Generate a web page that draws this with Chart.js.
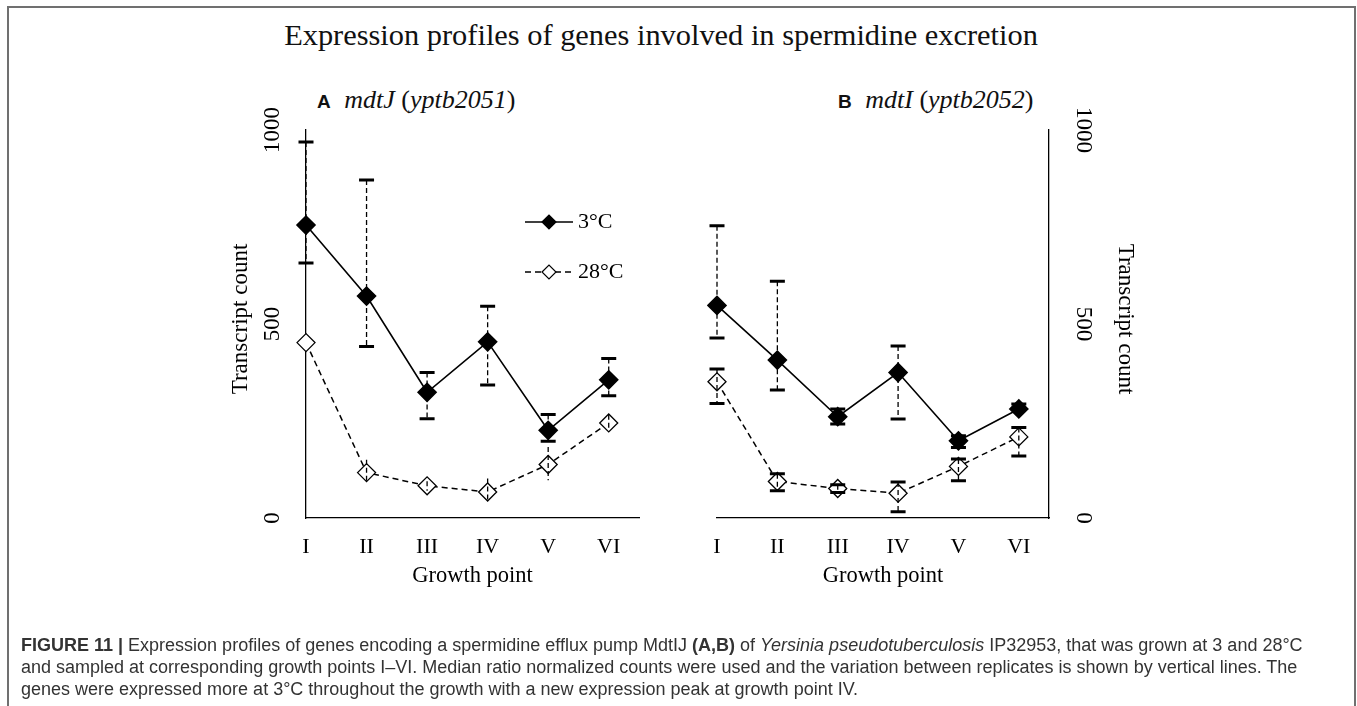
<!DOCTYPE html>
<html>
<head>
<meta charset="utf-8">
<script src="https://cdn.jsdelivr.net/npm/chart.js@4.4.1/dist/chart.umd.min.js"></script>
<style>
  body { margin: 0; background: #fff; width: 1357px; height: 706px; overflow: hidden; position: relative; font-family: "Liberation Serif", serif; }
  #frame { position: absolute; left: 7px; top: 6px; width: 1349px; height: 760px; border: 2px solid #707070; box-sizing: border-box; }
  #title { position: absolute; left: 0; width: 1322px; top: 17px; text-align: center; font-size: 30.4px; line-height: 36px; color: #111; }
  .panel { position: absolute; top: 85px; font-size: 26px; line-height: 30px; white-space: nowrap; color: #111; }
  .panel b { font-family: "Liberation Sans", Arial, sans-serif; font-size: 19px; margin-right: 7px; }
  canvas { position: absolute; left: 0; top: 0; }
  #caption { position: absolute; left: 21px; top: 634px; font-family: "Liberation Sans", Arial, sans-serif; font-size: 18px; line-height: 22px; color: #333; white-space: nowrap; }
</style>
</head>
<body>
<div id="frame"></div>
<div id="title">Expression profiles of genes involved in spermidine excretion</div>
<div class="panel" style="left:317px"><b>A</b> <i>mdtJ</i> (<i>yptb2051</i>)</div>
<div class="panel" style="left:838px"><b>B</b> <i>mdtI</i> (<i>yptb2052</i>)</div>
<canvas id="chartA" width="1357" height="706"></canvas>
<canvas id="chartB" width="1357" height="706"></canvas>
<div id="caption"><b>FIGURE 11 |</b> Expression profiles of genes encoding a spermidine efflux pump MdtIJ <b>(A,B)</b> of <i>Yersinia pseudotuberculosis</i> IP32953, that was grown at 3 and 28°C<br>and sampled at corresponding growth points I–VI. Median ratio normalized counts were used and the variation between replicates is shown by vertical lines. The<br>genes were expressed more at 3°C throughout the growth with a new expression peak at growth point IV.</div>
<script>
const growthPoints = ['I', 'II', 'III', 'IV', 'V', 'VI'];
const yTicks = [0, 500, 1000];

// A: mdtJ (yptb2051)
const mdtJ3 = [755, 572, 324, 454, 226, 356];
const mdtJ3Lo = [657, 442, 256, 343, 198, 315];
const mdtJ3Hi = [969, 871, 375, 546, 267, 411];
const mdtJ28 = [452, 117, 83, 67, 138, 245];
const mdtJ28Lo = [452, 95, 70, 42, 97, 226];
const mdtJ28Hi = [452, 150, 95, 102, 183, 266];

// B: mdtI (yptb2052)
const mdtI3 = [548, 407, 261, 375, 199, 281];
const mdtI3Lo = [464, 330, 242, 255, 182, 280];
const mdtI3Hi = [753, 610, 281, 443, 212, 294];
const mdtI28 = [351, 94, 76, 64, 133, 209];
const mdtI28Lo = [295, 70, 66, 16, 96, 160];
const mdtI28Hi = [384, 114, 86, 93, 152, 233];

const serif = 'Liberation Serif';
const toXY = vals => vals.map((v, i) => ({ x: i, y: v }));

// dashed whiskers with optional solid caps
const errorBars = {
  id: 'errorBars',
  afterDatasetsDraw(chart) {
    const ctx = chart.ctx, ys = chart.scales.y;
    chart.data.datasets.forEach((ds, i) => {
      const meta = chart.getDatasetMeta(i);
      meta.data.forEach((pt, j) => {
        const top = ys.getPixelForValue(ds.errHi[j]);
        const bot = ys.getPixelForValue(ds.errLo[j]);
        if (bot - top < 1) return;
        ctx.save();
        ctx.strokeStyle = '#000';
        ctx.lineWidth = 1.3;
        ctx.setLineDash([5, 3]);
        ctx.beginPath();
        ctx.moveTo(pt.x, top);
        ctx.lineTo(pt.x, bot);
        ctx.stroke();
        if (ds.capWidth) {
          const w = ds.capWidth / 2;
          ctx.setLineDash([]);
          ctx.lineWidth = 3;
          ctx.beginPath();
          ctx.moveTo(pt.x - w, top); ctx.lineTo(pt.x + w, top);
          ctx.moveTo(pt.x - w, bot); ctx.lineTo(pt.x + w, bot);
          ctx.stroke();
        }
        ctx.restore();
      });
    });
  }
};

// rotated y tick labels + axis title, legend
const sideText = {
  id: 'sideText',
  afterDraw(chart, args, o) {
    const ctx = chart.ctx, ys = chart.scales.y, a = chart.chartArea;
    const right = o.side === 'right';
    const rot = right ? Math.PI / 2 : -Math.PI / 2;
    const put = (txt, x, y) => {
      ctx.save();
      ctx.translate(x, y);
      ctx.rotate(rot);
      ctx.fillText(txt, 0, 0);
      ctx.restore();
    };
    ctx.save();
    ctx.fillStyle = '#000';
    ctx.textAlign = 'center';
    ctx.textBaseline = 'middle';
    ctx.font = '23px "' + serif + '"';
    yTicks.forEach(v => {
      put(String(v), right ? a.right + o.tickGap : a.left - o.tickGap, ys.getPixelForValue(v));
    });
    put('Transcript count', right ? a.right + o.titleGap : a.left - o.titleGap, (a.top + a.bottom) / 2 - 5);

    if (o.legend) {
      const x0 = a.left + 219, x1 = a.left + 267, xm = (x0 + x1) / 2;
      chart.data.datasets.forEach((ds, i) => {
        const y = a.top + 92 + i * 50;
        ctx.strokeStyle = '#000';
        ctx.lineWidth = 1.5;
        ctx.setLineDash(ds.borderDash || []);
        ctx.beginPath();
        ctx.moveTo(x0, y); ctx.lineTo(x1, y);
        ctx.stroke();
        ctx.setLineDash([]);
        ctx.beginPath();
        ctx.moveTo(xm - 7, y); ctx.lineTo(xm, y - 7); ctx.lineTo(xm + 7, y); ctx.lineTo(xm, y + 7);
        ctx.closePath();
        ctx.fillStyle = ds.pointBackgroundColor;
        ctx.fill();
        ctx.lineWidth = 1.2;
        ctx.stroke();
        ctx.fillStyle = '#000';
        ctx.textAlign = 'left';
        ctx.font = '22px "' + serif + '"';
        ctx.fillText(ds.label, x1 + 5, y);
      });
    }
    ctx.restore();
  }
};

function makeChart(id, cold, coldLo, coldHi, warm, warmLo, warmHi, side, pad, warmCap, legend) {
  return new Chart(document.getElementById(id), {
    type: 'line',
    data: {
      datasets: [{
        label: '3°C',
        data: toXY(cold),
        errLo: coldLo, errHi: coldHi, capWidth: 15,
        borderColor: '#000', borderWidth: 1.6,
        pointStyle: 'rectRot', pointRadius: 9,
        pointBackgroundColor: '#000', pointBorderColor: '#000',
        tension: 0, clip: false
      }, {
        label: '28°C',
        data: toXY(warm),
        errLo: warmLo, errHi: warmHi, capWidth: warmCap,
        borderColor: '#000', borderWidth: 1.5, borderDash: [6, 4],
        pointStyle: 'rectRot', pointRadius: 9, pointBorderWidth: 1.3,
        pointBackgroundColor: '#fff', pointBorderColor: '#000',
        tension: 0, clip: false
      }]
    },
    options: {
      responsive: false,
      animation: false,
      events: [],
      layout: { padding: pad },
      plugins: {
        legend: { display: false },
        tooltip: { enabled: false },
        sideText: { side: side, tickGap: side === 'right' ? 34 : 33, titleGap: side === 'right' ? 76 : 65, legend: legend }
      },
      scales: {
        x: {
          type: 'linear', min: 0, max: 5.5,
          grid: { display: false, drawTicks: false },
          border: { color: '#000', width: 1.3 },
          ticks: {
            stepSize: 1, includeBounds: false, padding: 16, autoSkip: false, maxRotation: 0,
            color: '#000', font: { family: serif, size: 22 },
            callback: v => Number.isInteger(v) ? growthPoints[v] : ''
          },
          title: { display: true, text: 'Growth point', color: '#000', font: { family: serif, size: 22.5 }, padding: 0 },
          afterFit: s => { s.height = 72; }
        },
        y: {
          min: 0, max: 1000, position: side,
          grid: { display: false, drawTicks: false },
          border: { color: '#000', width: 1.3 },
          ticks: { display: false },
          afterFit: s => { s.width = 0; }
        }
      }
    },
    plugins: [errorBars, sideText]
  });
}

makeChart('chartA', mdtJ3, mdtJ3Lo, mdtJ3Hi, mdtJ28, mdtJ28Lo, mdtJ28Hi, 'left',
  { left: 306, right: 718, top: 130, bottom: 116 }, 0, true);
makeChart('chartB', mdtI3, mdtI3Lo, mdtI3Hi, mdtI28, mdtI28Lo, mdtI28Hi, 'right',
  { left: 717, right: 308, top: 130, bottom: 116 }, 15, false);
</script>
</body>
</html>
